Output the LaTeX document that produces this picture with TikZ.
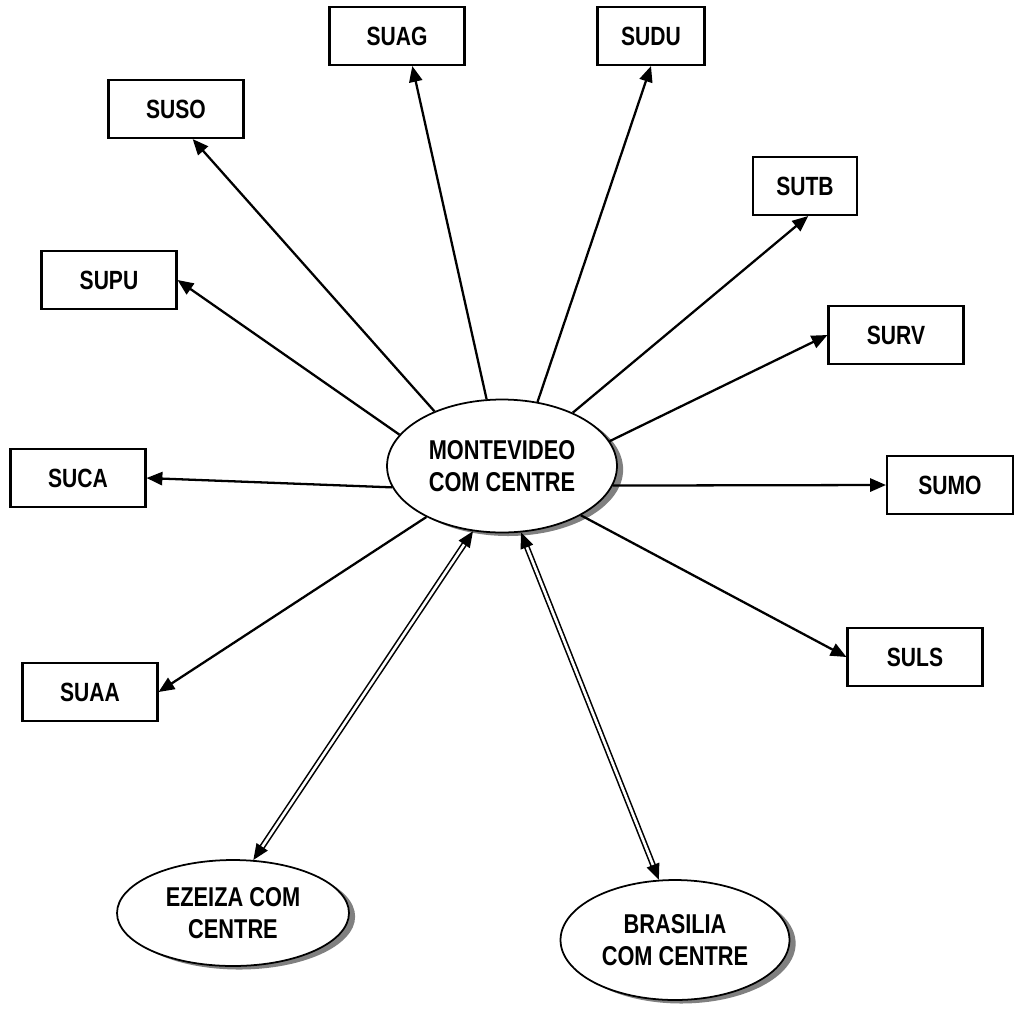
\documentclass[tikz,border=0pt]{standalone}
\usepackage{fontspec}
\setmainfont{Liberation Sans}[FakeStretch=0.8]
\usetikzlibrary{shapes.geometric,shadows,arrows.meta}
\tikzset{
  station/.style={draw, line width=1.2pt, minimum width=2.7cm, minimum height=1.16cm,
    font=\bfseries\fontsize{15}{17}\selectfont},
  centre/.style={ellipse, draw, line width=1pt, fill=white, align=center, inner sep=0pt,
    font=\bfseries\fontsize{15.5}{18.5}\selectfont,
    drop shadow={shadow xshift=3.5pt, shadow yshift=-2pt, fill=black!50, opacity=1}},
  link/.style={line width=1.3pt, -{Triangle[length=9pt,width=7.5pt]}},
  trunk/.style={double, line width=0.9pt, double distance=1.5pt,
    {Triangle[length=9pt,width=7.5pt]}-{Triangle[length=9pt,width=7.5pt]}}
}
\begin{document}
\begin{tikzpicture}[x=0.02cm, y=-0.02cm]
    \useasboundingbox (0,0) rectangle (1024,1015);
    % place nodes
    \node [centre, minimum width=4.6cm, minimum height=2.66cm] (mvd) at (502,466) {MONTEVIDEO\\COM CENTRE};
    \node [centre, minimum width=4.64cm, minimum height=2.12cm] (eze) at (233,913) {EZEIZA COM\\CENTRE};
    \node [centre, minimum width=4.58cm, minimum height=2.4cm] (bsb) at (675,940) {BRASILIA\\COM CENTRE};
    \node [station] (suag) at (397,36) {SUAG};
    \node [station, minimum width=2.14cm] (sudu) at (651,36) {SUDU};
    \node [station] (suso) at (176,109) {SUSO};
    \node [station, minimum width=2.08cm] (sutb) at (805,186) {SUTB};
    \node [station] (supu) at (109,280) {SUPU};
    \node [station] (surv) at (896,335) {SURV};
    \node [station] (suca) at (78,478) {SUCA};
    \node [station, minimum width=2.52cm] (sumo) at (950,485) {SUMO};
    \node [station] (suls) at (915,657) {SULS};
    \node [station] (suaa) at (90,692) {SUAA};
    % draw edges
    \draw [link] (mvd.141) -- (suso.-61);
    \draw [link] (mvd.103) -- (suag.-63);
    \draw [link] (mvd.61) -- (sudu.south);
    \draw [link] (mvd.37) -- (sutb.-84);
    \draw [link] (mvd.13) -- (surv.west);
    \draw [link] (mvd.-10) -- (sumo.west);
    \draw [link] (mvd.-32) -- (suls.west);
    \draw [link] (mvd.214) -- (suaa.east);
    \draw [link] (mvd.191) -- (suca.east);
    \draw [link] (mvd.163) -- (supu.east);
    \draw [trunk] (eze.69) -- (mvd.246);
    \draw [trunk] (bsb.105) -- (mvd.286);
\end{tikzpicture}
\end{document}
